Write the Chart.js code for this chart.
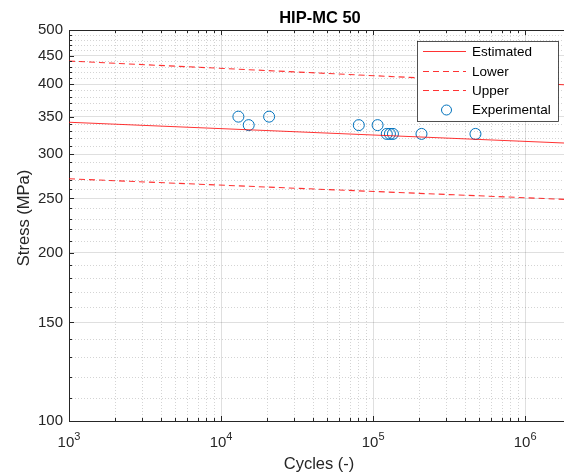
<!DOCTYPE html>
<html lang="en">
<head>
  <meta charset="UTF-8">
  <title>HIP-MC 50</title>
  <script src="https://cdn.jsdelivr.net/npm/chart.js"></script>
  <style>
    html, body { margin: 0; padding: 0; background: #fff; overflow: hidden; }
    #wrap { width: 564px; height: 475px; }
    canvas { display: block; }
  </style>
</head>
<body>
  <div id="wrap"><canvas id="snChart" width="564" height="475"></canvas></div>

  <script>
  // S-N data
  const lineCycles = [1e3, 1.8e6];
  const estimated = [342, 314];
  const lower = [271, 249];
  const upper = [440, 399];

  const expCycles = [13000, 15200, 20700, 80500, 107000, 123000, 129000, 135000, 208000, 471000];
  const expStress = [350, 338, 350, 338, 338, 326, 326, 326, 326, 326];

  const xTicks = [1e3, 1e4, 1e5, 1e6];
  const xTickExp = ['3', '4', '5', '6'];
  const yTicks = [100, 150, 200, 250, 300, 350, 400, 450, 500];

  const AXIS = '#262626';
  const FONT = '"Liberation Sans", Arial, Helvetica, sans-serif';

  const pts = (xs, ys) => xs.map((x, i) => ({ x: x, y: ys[i] }));

  // minor grid, inside ticks, box, x labels with exponents, titles, legend
  const matlabLook = {
    id: 'matlabLook',
    beforeDatasetsDraw(chart) {
      const { ctx, chartArea: a, scales: { x, y } } = chart;
      ctx.save();
      ctx.strokeStyle = 'rgba(38,38,38,0.2)';
      ctx.lineWidth = 1;
      ctx.setLineDash([1, 2]);
      ctx.beginPath();
      minorX(x).forEach(v => {
        const px = Math.round(x.getPixelForValue(v)) + 0.5;
        ctx.moveTo(px, a.top); ctx.lineTo(px, a.bottom);
      });
      minorY().forEach(v => {
        const py = Math.round(y.getPixelForValue(v)) + 0.5;
        ctx.moveTo(a.left, py); ctx.lineTo(a.right, py);
      });
      ctx.stroke();
      ctx.restore();
    },
    afterDraw(chart) {
      const { ctx, chartArea: a, scales: { x, y } } = chart;
      ctx.save();
      ctx.strokeStyle = AXIS;
      ctx.lineWidth = 1;
      // top frame line
      ctx.beginPath();
      ctx.moveTo(a.left, a.top + 0.5); ctx.lineTo(a.right, a.top + 0.5);
      ctx.stroke();

      // ticks pointing inward
      ctx.beginPath();
      const xt = (v, len) => {
        const px = Math.round(x.getPixelForValue(v)) + 0.5;
        ctx.moveTo(px, a.bottom); ctx.lineTo(px, a.bottom - len);
        ctx.moveTo(px, a.top); ctx.lineTo(px, a.top + len);
      };
      const yt = (v, len) => {
        const py = Math.round(y.getPixelForValue(v)) + 0.5;
        ctx.moveTo(a.left, py); ctx.lineTo(a.left + len, py);
      };
      xTicks.forEach(v => xt(v, 5));
      minorX(x).forEach(v => xt(v, 3));
      yTicks.forEach(v => yt(v, 5));
      minorY().forEach(v => yt(v, 3));
      ctx.stroke();

      // x tick labels: 10 with superscript exponent
      ctx.fillStyle = AXIS;
      ctx.textBaseline = 'alphabetic';
      xTicks.forEach((v, i) => {
        const px = x.getPixelForValue(v);
        ctx.font = '15px ' + FONT;
        const wb = ctx.measureText('10').width;
        ctx.font = '11px ' + FONT;
        const we = ctx.measureText(xTickExp[i]).width;
        const left = px - (wb + we) / 2;
        ctx.font = '15px ' + FONT;
        ctx.textAlign = 'left';
        ctx.fillText('10', left, 447);
        ctx.font = '11px ' + FONT;
        ctx.fillText(xTickExp[i], left + wb, 439.5);
      });

      // axis titles
      ctx.font = '16.5px ' + FONT;
      ctx.textAlign = 'center';
      ctx.textBaseline = 'middle';
      ctx.fillText('Cycles (-)', 319, 464);
      ctx.save();
      ctx.translate(24, 218);
      ctx.rotate(-Math.PI / 2);
      ctx.fillText('Stress (MPa)', 0, 0);
      ctx.restore();

      // title
      ctx.font = 'bold 16.5px ' + FONT;
      ctx.fillStyle = '#000';
      ctx.fillText('HIP-MC 50', 320, 18.5);

      // legend box
      const bx = 417, by = 41, bw = 141, bh = 80;
      ctx.fillStyle = '#fff';
      ctx.fillRect(bx, by, bw, bh);
      ctx.strokeStyle = AXIS;
      ctx.lineWidth = 0.8;
      ctx.strokeRect(bx + 0.5, by + 0.5, bw, bh);
      const rows = [51.5, 71.5, 90.5, 110];
      ctx.font = '13.5px ' + FONT;
      ctx.textAlign = 'left';
      ctx.textBaseline = 'middle';
      chart.data.datasets.forEach((ds, i) => {
        const ry = rows[i];
        ctx.save();
        ctx.strokeStyle = ds.borderColor;
        ctx.lineWidth = ds.borderWidth;
        if (ds.showLine) {
          ctx.setLineDash(ds.borderDash || []);
          ctx.beginPath();
          ctx.moveTo(423, ry); ctx.lineTo(466, ry);
          ctx.stroke();
        } else {
          ctx.beginPath();
          ctx.arc(446.5, ry, ds.pointRadius - 0.5, 0, Math.PI * 2);
          ctx.stroke();
        }
        ctx.restore();
        ctx.fillStyle = '#000';
        ctx.fillText(ds.label, 472, ry + 0.5);
      });
      ctx.restore();
    }
  };

  function minorX(x) {
    const out = [];
    xTicks.forEach(d => {
      for (let m = 2; m <= 9; m++) if (m * d <= x.max) out.push(m * d);
    });
    return out;
  }
  function minorY() {
    const out = [];
    for (let v = 110; v < 500; v += 10) if (v % 50 !== 0) out.push(v);
    return out;
  }

  const lineStyle = (label, data, dash) => ({
    label: label,
    data: data,
    showLine: true,
    borderColor: 'rgba(255,0,0,0.8)',
    borderWidth: 1.1,
    borderDash: dash,
    pointRadius: 0,
    fill: false
  });

  new Chart(document.getElementById('snChart'), {
    type: 'scatter',
    data: {
      datasets: [
        lineStyle('Estimated', pts(lineCycles, estimated), []),
        lineStyle('Lower', pts(lineCycles, lower), [6, 4]),
        lineStyle('Upper', pts(lineCycles, upper), [6, 4]),
        {
          label: 'Experimental',
          data: pts(expCycles, expStress),
          showLine: false,
          pointRadius: 5.5,
          pointHoverRadius: 5.5,
          borderColor: '#0072BD',
          backgroundColor: 'rgba(0,0,0,0)',
          borderWidth: 1
        }
      ]
    },
    options: {
      responsive: false,
      animation: false,
      events: [],
      layout: { autoPadding: false, padding: { top: 30, right: 0, left: 0, bottom: 0 } },
      plugins: { legend: { display: false }, title: { display: false }, tooltip: { enabled: false } },
      scales: {
        x: {
          type: 'logarithmic',
          min: 1e3,
          max: 1.8e6,
          afterBuildTicks: s => { s.ticks = xTicks.map(v => ({ value: v })); },
          afterFit: s => { s.height = 54; },
          ticks: { display: false },
          grid: { color: 'rgba(38,38,38,0.15)', drawTicks: false },
          border: { color: AXIS, width: 1 }
        },
        y: {
          type: 'logarithmic',
          min: 100,
          max: 500,
          afterBuildTicks: s => { s.ticks = yTicks.map(v => ({ value: v })); },
          afterFit: s => { s.width = 69; },
          ticks: {
            color: AXIS,
            font: { family: FONT, size: 15 },
            padding: 6,
            callback: v => String(v)
          },
          grid: { color: 'rgba(38,38,38,0.15)', drawTicks: false },
          border: { color: AXIS, width: 1 }
        }
      }
    },
    plugins: [matlabLook]
  });
  </script>
</body>
</html>
